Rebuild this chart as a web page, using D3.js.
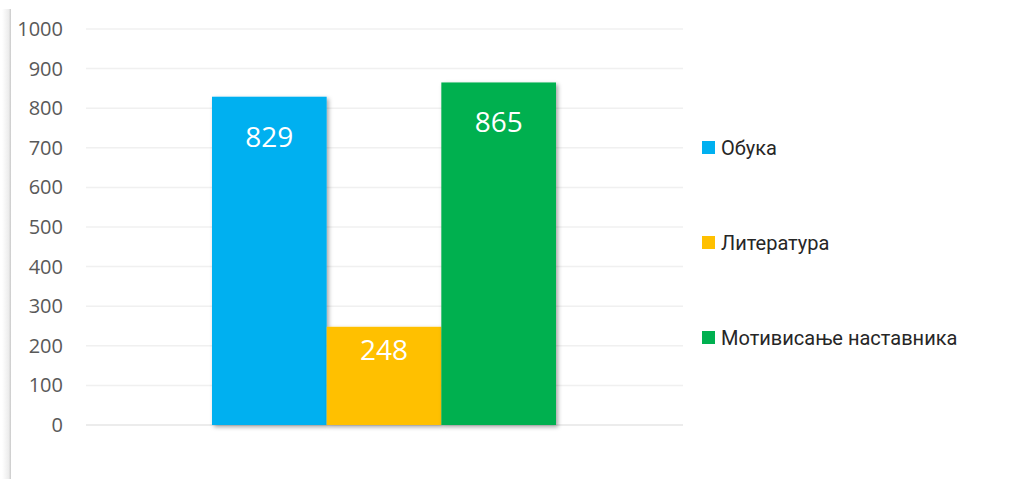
<!DOCTYPE html>
<html>
<head>
<meta charset="utf-8">
<script src="https://cdn.jsdelivr.net/npm/d3@7"></script>
<style>
  body { margin: 0; background: #fff; }
  svg { display: block; }
</style>
</head>
<body>
<div id="chart"></div>
<script>
const categories = ["Обука", "Литература", "Мотивисање наставника"];
const values = [829, 248, 865];
const colors = ["#00B0F0", "#FFC000", "#00B050"];
const yTicks = [0, 100, 200, 300, 400, 500, 600, 700, 800, 900, 1000];

const width = 1014, height = 479;
const margin = { top: 29, right: 331, bottom: 54, left: 86 };

const svg = d3.select("#chart")
    .append("svg")
    .attr("width", width)
    .attr("height", height);

const defs = svg.append("defs");
const shadow = defs.append("filter")
    .attr("id", "shadow")
    .attr("x", "-20%").attr("y", "-20%")
    .attr("width", "140%").attr("height", "140%");
shadow.append("feDropShadow")
    .attr("dx", 2).attr("dy", 2)
    .attr("stdDeviation", 2)
    .attr("flood-color", "#000")
    .attr("flood-opacity", 0.35);

const edge = defs.append("linearGradient")
    .attr("id", "edge")
    .attr("x1", "0").attr("x2", "1");
edge.append("stop").attr("offset", "0").attr("stop-color", "#fff");
edge.append("stop").attr("offset", "0.75").attr("stop-color", "#ececec");
edge.append("stop").attr("offset", "1").attr("stop-color", "#c9c9c9");

// left frame edge
svg.append("rect")
    .attr("x", 2).attr("y", 9)
    .attr("width", 9).attr("height", height - 9)
    .attr("fill", "url(#edge)");

const y = d3.scaleLinear()
    .domain([0, 1000])
    .range([height - margin.bottom, margin.top]);

// grid lines
svg.append("g")
    .selectAll("line")
    .data(yTicks)
    .enter()
    .append("line")
    .attr("x1", margin.left)
    .attr("x2", width - margin.right)
    .attr("y1", d => y(d))
    .attr("y2", d => y(d))
    .attr("stroke", d => d === 0 ? "#e6e6e6" : "#f0f0f0")
    .attr("stroke-width", 1.5);

// Y axis labels
svg.append("g")
    .attr("transform", `translate(63, 0)`)
    .call(d3.axisLeft(y).tickValues(yTicks).tickFormat(d3.format("d")).tickSize(0).tickPadding(0))
    .call(g => g.select(".domain").remove())
    .selectAll("text")
    .attr("fill", "#595959")
    .attr("font-family", "'Open Sans', 'Noto Sans', sans-serif")
    .attr("font-size", "20px");

const x = d3.scaleBand()
    .domain(categories)
    .range([212, 556]);

// Bars
svg.selectAll("rect.bar")
    .data(categories)
    .enter()
    .append("rect")
    .attr("class", "bar")
    .attr("x", d => x(d))
    .attr("y", (d, i) => y(values[i]))
    .attr("width", x.bandwidth())
    .attr("height", (d, i) => y(0) - y(values[i]))
    .attr("fill", (d, i) => colors[i])
    .attr("filter", "url(#shadow)");

// Value labels
svg.selectAll("text.value")
    .data(categories)
    .enter()
    .append("text")
    .attr("class", "value")
    .attr("x", d => x(d) + x.bandwidth() / 2)
    .attr("y", (d, i) => {
        const h = y(0) - y(values[i]);
        return y(values[i]) + Math.min(50, h * 0.34);
    })
    .attr("text-anchor", "middle")
    .attr("fill", "white")
    .attr("font-family", "'Open Sans', 'Noto Sans', sans-serif")
    .attr("font-size", "28px")
    .text((d, i) => values[i]);

// Legend
const legend = svg.append("g")
    .selectAll("g")
    .data(categories)
    .enter()
    .append("g")
    .attr("transform", (d, i) => `translate(702, ${148 + i * 95})`);

legend.append("rect")
    .attr("x", 0).attr("y", -7)
    .attr("width", 13).attr("height", 13)
    .attr("fill", (d, i) => colors[i]);

legend.append("text")
    .attr("x", 19)
    .attr("y", 7)
    .attr("fill", "#262626")
    .attr("font-family", "Roboto, sans-serif")
    .attr("font-size", "20px")
    .text(d => d);
</script>
</body>
</html>
